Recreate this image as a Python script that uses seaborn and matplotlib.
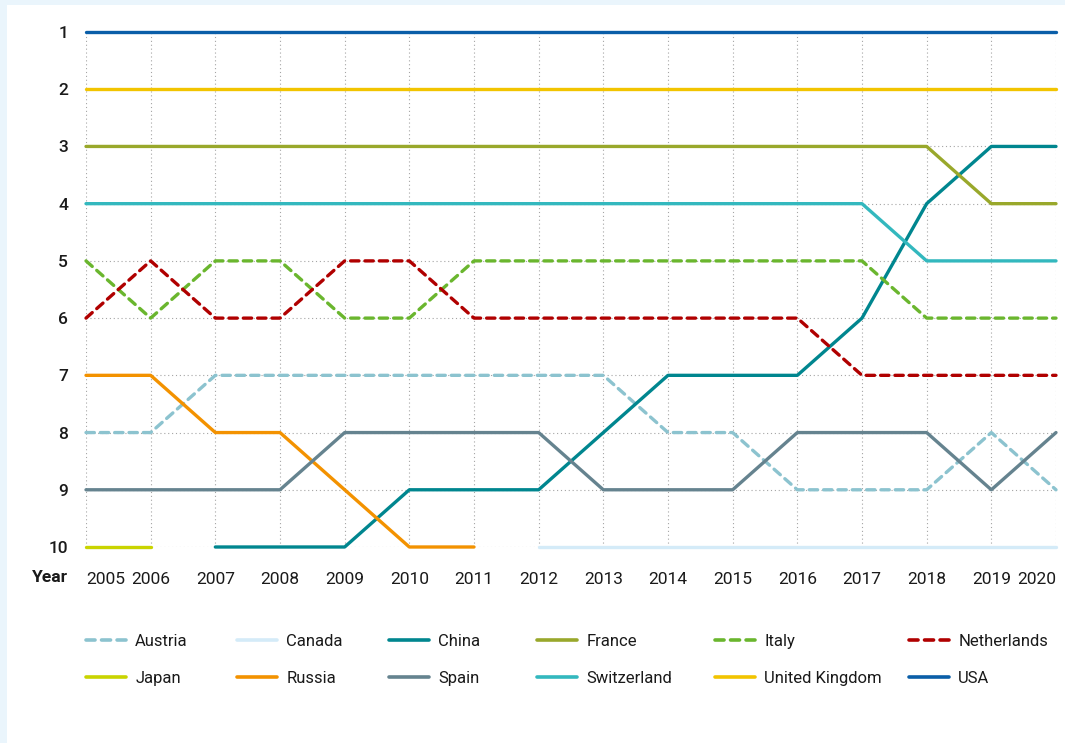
import matplotlib
matplotlib.use("Agg")
import matplotlib.pyplot as plt
from matplotlib.lines import Line2D
from matplotlib.patches import Rectangle
import seaborn as sns
import pandas as pd
import numpy as np

years = list(range(2005, 2021))
nan = np.nan
austria     = [8, 8, 7, 7, 7, 7, 7, 7, 7, 8, 8, 9, 9, 9, 8, 9]
canada      = [nan]*7 + [10]*9
china       = [nan, nan, 10, 10, 10, 9, 9, 9, 8, 7, 7, 7, 6, 4, 3, 3]
france      = [3]*14 + [4, 4]
italy       = [5, 6, 5, 5, 6, 6, 5, 5, 5, 5, 5, 5, 5, 6, 6, 6]
netherlands = [6, 5, 6, 6, 5, 5, 6, 6, 6, 6, 6, 6, 7, 7, 7, 7]
japan       = [10, 10] + [nan]*14
russia      = [7, 7, 8, 8, 9, 10, 10] + [nan]*9
spain       = [9, 9, 9, 9, 8, 8, 8, 8, 9, 9, 9, 8, 8, 8, 9, 8]
switzerland = [4]*13 + [5, 5, 5]
uk          = [2]*16
usa         = [1]*16

series = {
    "Austria": austria, "Canada": canada, "China": china, "France": france,
    "Italy": italy, "Netherlands": netherlands, "Japan": japan, "Russia": russia,
    "Spain": spain, "Switzerland": switzerland, "United Kingdom": uk, "USA": usa,
}
colors = {
    "Austria": "#8cc3cf", "Canada": "#d4ebf8", "China": "#00868f", "France": "#99a82b",
    "Italy": "#6ab62e", "Netherlands": "#b00000", "Japan": "#c9d400", "Russia": "#f39200",
    "Spain": "#65838f", "Switzerland": "#33b8be", "United Kingdom": "#f2c400", "USA": "#0a5ea8",
}
dashed = {"Austria", "Italy", "Netherlands"}

rows = []
for name, vals in series.items():
    for y, v in zip(years, vals):
        rows.append({"Year": y, "Rank": v, "Country": name})
df = pd.DataFrame(rows).dropna()

sns.set_theme(style="white")
plt.rcParams['font.family'] = ['Roboto', 'DejaVu Sans']

W, H = 1065, 743
fig = plt.figure(figsize=(W/100, H/100), dpi=100)
fig.patch.set_facecolor("#eaf5fc")
fig.patches.append(Rectangle((7/W, 0), 1, 1 - 5/H, transform=fig.transFigure,
                             facecolor="white", edgecolor="none", zorder=-5))

x0, x1 = 86, 1056
y_top, y_bot = 32, 547
ax = fig.add_axes([x0/W, 1 - y_bot/H, (x1-x0)/W, (y_bot-y_top)/H])
ax.set_facecolor("none")
ax.set_zorder(2)

lw = 2.4
dash_pat = (2.5, 1.8)
dashes = {n: (dash_pat if n in dashed else "") for n in series}

sns.lineplot(data=df, x="Year", y="Rank", hue="Country", style="Country",
             palette=colors, dashes=dashes, linewidth=lw, legend=False, ax=ax,
             sort=True, estimator=None)
for ln in ax.get_lines():
    ln.set_clip_on(False)
    ln.set_solid_capstyle("round")
    ln.set_dash_capstyle("round")
    ln.set_zorder(3)

ax.set_xlim(2005, 2020)
ax.set_ylim(10, 1)
ax.set_yticks(range(1, 11))
ax.set_yticklabels([str(i) for i in range(1, 11)], fontsize=12.5, color="#1a1a1a",
                   fontweight="medium")
ax.set_xticks(years)
ax.set_xticklabels([str(y) for y in years], fontsize=12.5, color="#1a1a1a")
tl = ax.get_xticklabels()
tl[0].set_ha("left")
tl[-1].set_ha("right")
ax.tick_params(axis="both", length=0)
ax.tick_params(axis="y", pad=13)
ax.tick_params(axis="x", pad=18)
for s in ax.spines.values():
    s.set_visible(False)
ax.grid(True, color="#a5a5a5", linestyle=(0, (1, 2.5)), linewidth=0.8)
ax.set_axisbelow(True)
ax.set_xlabel("")
ax.set_ylabel("")
fig.text(32/W, 1 - 578/H, "Year", fontsize=12.5, fontweight="bold", ha="left",
         va="center", color="#1a1a1a")

columns = [["Austria", "Japan"], ["Canada", "Russia"], ["China", "Spain"],
           ["France", "Switzerland"], ["Italy", "United Kingdom"], ["Netherlands", "USA"]]
col_x = [86, 237, 389, 537, 715, 909]
for names, cx in zip(columns, col_x):
    handles = []
    for n in names:
        if n in dashed:
            h = Line2D([], [], color=colors[n], lw=lw+0.2, linestyle=(0, dash_pat),
                       dash_capstyle="round")
        else:
            h = Line2D([], [], color=colors[n], lw=lw+0.2, solid_capstyle="round")
        handles.append(h)
    leg = fig.legend(handles, names, ncol=1, loc="upper left",
                     bbox_to_anchor=(cx/W, 1 - 634/H), frameon=False, fontsize=12,
                     handlelength=2.4, handletextpad=0.55, labelspacing=1.3,
                     borderaxespad=0, borderpad=0)
    for t in leg.get_texts():
        t.set_color("#1a1a1a")

fig.savefig("out.png", dpi=100, facecolor=fig.get_facecolor())
